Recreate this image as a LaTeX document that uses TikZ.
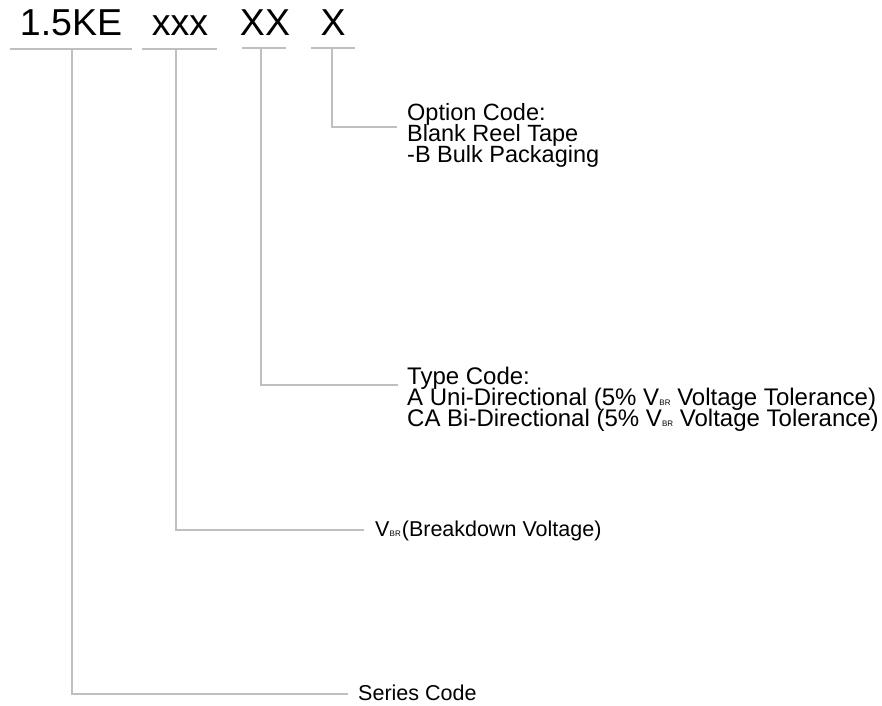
\documentclass[tikz,border=0pt]{standalone}
\usepackage{fontspec}
\setmainfont{Liberation Sans}
\definecolor{linegray}{RGB}{191,191,191}
\newcommand\vbrsub{V\kern0.2pt{\fontsize{8}{8}\selectfont BR}}
\begin{document}
\begin{tikzpicture}[x=1pt,y=-1pt,
  conn/.style={draw=linegray,line width=1.6pt},
  part/.style={font=\fontsize{37.5}{40}\selectfont,inner sep=0,anchor=base},
  lbl/.style={font=\fontsize{23.5}{21}\selectfont,inner sep=0,anchor=base west},
  lblT/.style={lbl,font=\fontsize{24}{21}\selectfont},
  lblS/.style={lbl,font=\fontsize{21.5}{21}\selectfont}]
\useasboundingbox (0,0) rectangle (882,705);
% part-number fields
\node[part] (pS) at (71,35) {1.5KE};
\node[part] (pV) at (180,35) {xxx};
\node[part] (pT) at (265,35) {XX};
\node[part] (pO) at (333,35) {X};
% underlines
\draw[conn] (10,49) -- (132,49);
\draw[conn] (142,49) -- (217,49);
\draw[conn] (242,48) -- (286,48);
\draw[conn] (311,48) -- (355,48);
% connector start points
\coordinate (tS) at (72,49);
\coordinate (tV) at (176,49);
\coordinate (tT) at (261,48);
\coordinate (tO) at (332,48);
% connector end points
\coordinate (eO) at (397,127);
\coordinate (eT) at (398,385);
\coordinate (eV) at (364,530);
\coordinate (eS) at (348,694);
% descriptions
\node[lbl] (opt1) at (407,120) {Option Code:};
\node[lbl] (opt2) at (407,141) {Blank Reel Tape};
\node[lbl] (opt3) at (407,162) {-B Bulk Packaging};
\node[lblT] (typ1) at (407,384) {Type Code:};
\node[lblT] (typ2) at (407,405) {A Uni-Directional (5\% \vbrsub\ Voltage Tolerance)};
\node[lblT] (typ3) at (407,426) {CA Bi-Directional (5\% \vbrsub\ Voltage Tolerance)};
\node[lblS] (vbr) at (375,536) {\vbrsub\kern1pt(Breakdown Voltage)};
\node[lblS] (ser) at (358,700) {Series Code};
% connectors
\draw[conn] (tO) |- (eO);
\draw[conn] (tT) |- (eT);
\draw[conn] (tV) |- (eV);
\draw[conn] (tS) |- (eS);
\end{tikzpicture}
\end{document}
